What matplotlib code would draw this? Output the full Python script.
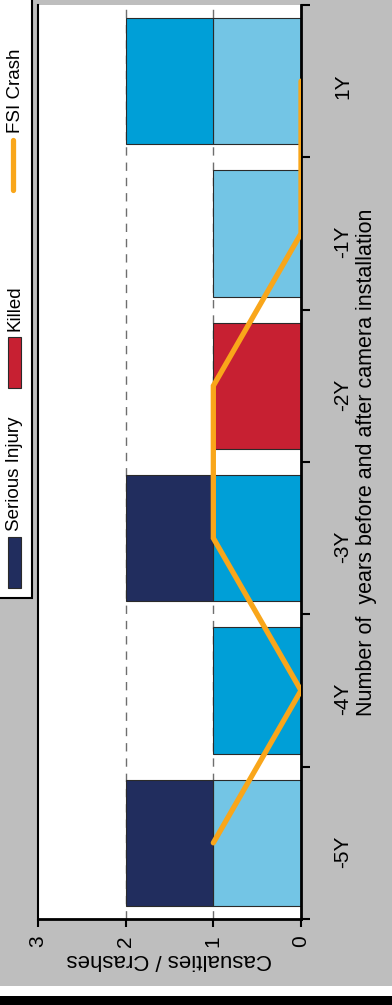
import numpy as np
import matplotlib
matplotlib.use("Agg")
import matplotlib.pyplot as plt
from matplotlib.patches import Rectangle
from matplotlib.lines import Line2D
from matplotlib.ticker import FixedLocator

plt.rcParams['font.family'] = ['Liberation Sans', 'DejaVu Sans']

# data
years = ['-5Y', '-4Y', '-3Y', '-2Y', '-1Y', '1Y']
light = [1, 0, 0, 0, 1, 1]      # unlabelled light blue
mid = [0, 1, 1, 0, 0, 1]        # unlabelled mid blue
killed = [0, 0, 0, 1, 0, 0]
serious = [1, 0, 1, 0, 0, 0]
fsi_crash = [1, 0, 1, 1, 0, 0]

W, H = 392, 1005
def fx(p): return p / W
def fy(p): return 1 - p / H

fig = plt.figure(figsize=(W / 100, H / 100), dpi=100, facecolor='#BEBEBE')
ax = fig.add_axes([fx(38), fy(919), fx(301) - fx(38), fy(5) - fy(919)])

idx = np.arange(len(years))
for v in (1, 2):
    ax.axvline(v, color='#6E6E6E', lw=1, ls=(0, (6, 5)), zorder=0)

series = [(light, '#73C5E5'), (mid, '#009FD7'), (killed, '#C72032'), (serious, '#212D5E')]
left = np.zeros(len(years))
for vals, col in series:
    vals = np.array(vals, dtype=float)
    m = vals > 0
    ax.barh(idx[m], vals[m], left=left[m], height=0.83, color=col,
            edgecolor='#2A2A2A', linewidth=0.8, zorder=2)
    left += vals

ax.plot(fsi_crash, idx, color='#F9A61A', lw=3.8, solid_capstyle='round',
        solid_joinstyle='miter', zorder=3)

ax.set_xlim(3, 0)
ax.set_ylim(-0.5, len(years) - 0.5)

for s in ('left', 'right', 'bottom'):
    ax.spines[s].set_color('black')
ax.spines['left'].set_linewidth(1.5)
ax.spines['right'].set_linewidth(2)
ax.spines['bottom'].set_linewidth(2)
ax.spines['top'].set_visible(False)

ax.set_xticks([0, 1, 2, 3])
ax.set_xticklabels(['0', '1', '2', '3'])
ax.tick_params(axis='x', direction='out', length=6, width=1.5, pad=6,
               labelsize=15, labelrotation=90)

ax.yaxis.tick_right()
ax.set_yticks(idx)
ax.set_yticklabels(years)
ax.yaxis.set_minor_locator(FixedLocator(np.arange(-0.5, len(years), 1.0)))
ax.tick_params(axis='y', which='major', length=0, pad=23, labelsize=15,
               labelrotation=90)
ax.tick_params(axis='y', which='minor', direction='out', length=6.5, width=1.5)

ax.set_xlabel('Casualties / Crashes', rotation=180, fontsize=16, labelpad=1)
ax.yaxis.set_label_position('right')
ax.set_ylabel('Number of  years before and after camera installation',
              rotation=90, fontsize=15.5, labelpad=3)

# legend (cut by the figure edge)
fig.patches.append(Rectangle((fx(-10), fy(598)), fx(32) - fx(-10), fy(-20) - fy(598),
                             transform=fig.transFigure, facecolor='white',
                             edgecolor='black', lw=1.5))
fig.patches.append(Rectangle((fx(8), fy(588)), fx(13), fy(537) - fy(588),
                             transform=fig.transFigure, facecolor='#212D5E',
                             edgecolor='#2A2A2A', lw=0.8))
fig.text(fx(15), fy(531), 'Serious Injury', rotation=90, ha='center', va='bottom', fontsize=13.5)
fig.patches.append(Rectangle((fx(8), fy(388)), fx(13), fy(337) - fy(388),
                             transform=fig.transFigure, facecolor='#C72032',
                             edgecolor='#2A2A2A', lw=0.8))
fig.text(fx(15), fy(331), 'Killed', rotation=90, ha='center', va='bottom', fontsize=13.5)
fig.lines.append(Line2D([fx(12.5), fx(12.5)], [fy(190), fy(140)], transform=fig.transFigure,
                        color='#F9A61A', lw=3.8, solid_capstyle='round'))
fig.text(fx(15), fy(133), 'FSI Crash', rotation=90, ha='center', va='bottom', fontsize=13.5)

# bottom band
fig.patches.append(Rectangle((0, fy(996)), 1, fy(986) - fy(996), transform=fig.transFigure,
                             facecolor='white', edgecolor='none'))
fig.patches.append(Rectangle((0, 0), 1, fy(996), transform=fig.transFigure,
                             facecolor='black', edgecolor='none'))

fig.savefig('out.png', dpi=100, facecolor=fig.get_facecolor())
